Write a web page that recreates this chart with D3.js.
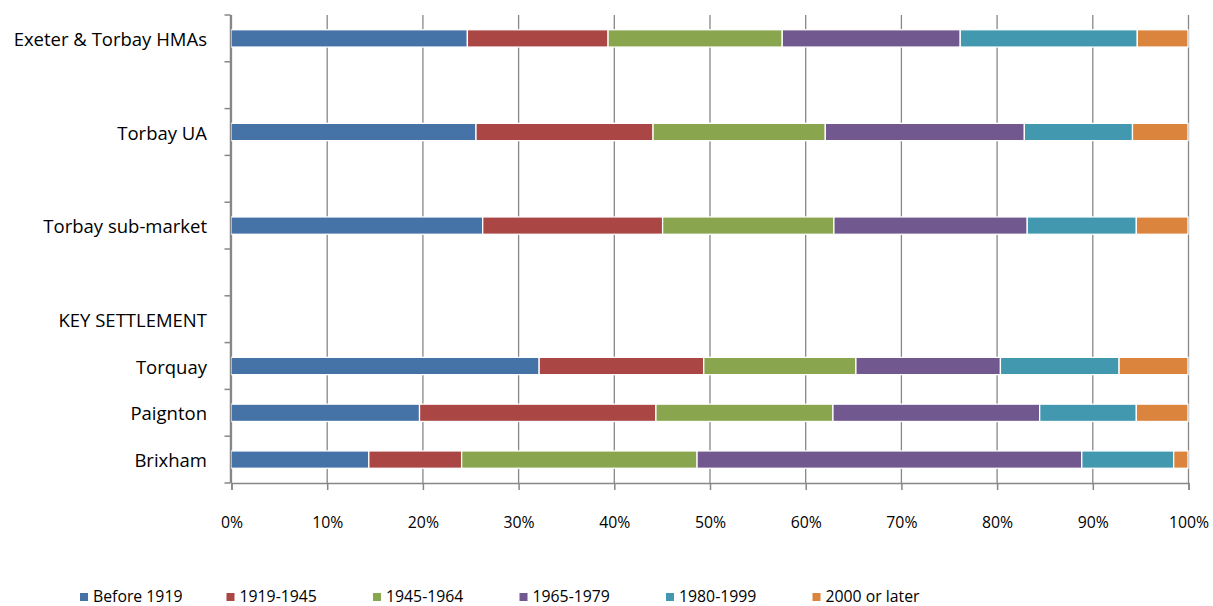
<!DOCTYPE html>
<html>
<head>
<meta charset="utf-8">
<script src="https://d3js.org/d3.v7.min.js"></script>
<style>
  body { margin: 0; background: #fff; }
  text { font-family: "Open Sans", "Noto Sans", sans-serif; fill: #000; }
</style>
</head>
<body>
<svg id="chart" width="1213" height="606"></svg>
<script>
// categories, top to bottom (blank slots are empty rows in the source)
const categories = ["Exeter & Torbay HMAs", "", "Torbay UA", "", "Torbay sub-market", "", "KEY SETTLEMENT", "Torquay", "Paignton", "Brixham"];
const seriesNames = ["Before 1919", "1919-1945", "1945-1964", "1965-1979", "1980-1999", "2000 or later"];
const colors = ["#4572A7", "#AA4643", "#89A54E", "#71588F", "#4198AF", "#DB843D"];

// percent shares per category (null = no bar)
const before1919 = [24.7, null, 25.6, null, 26.3, null, null, 32.2, 19.7, 14.4];
const y1919_1945 = [14.7, null, 18.5, null, 18.8, null, null, 17.2, 24.7, 9.7];
const y1945_1964 = [18.2, null, 18.0, null, 17.9, null, null, 15.9, 18.5, 24.6];
const y1965_1979 = [18.6, null, 20.8, null, 20.2, null, null, 15.1, 21.6, 40.2];
const y1980_1999 = [18.5, null, 11.3, null, 11.4, null, null, 12.4, 10.1, 9.6];
const y2000later = [5.3, null, 5.8, null, 5.4, null, null, 7.2, 5.4, 1.5];
const xTicks = [0, 10, 20, 30, 40, 50, 60, 70, 80, 90, 100];

const series = [before1919, y1919_1945, y1945_1964, y1965_1979, y1980_1999, y2000later];

const svg = d3.select("#chart");
const margin = { left: 231, right: 25, top: 15, bottom: 123 };
const W = 1213, H = 606;

const x = d3.scaleLinear().domain([0, 100]).range([margin.left, W - margin.right]);
const y = d3.scaleBand().domain(d3.range(categories.length)).range([margin.top, H - margin.bottom]).paddingInner(0.63).paddingOuter(0.315);

// gridlines
svg.append("g").selectAll("line").data(xTicks).join("line")
  .attr("x1", d => x(d) + 0.5).attr("x2", d => x(d) + 0.5)
  .attr("y1", margin.top).attr("y2", H - margin.bottom)
  .attr("stroke", "#878787").attr("stroke-width", 1.3);

// stacked bars
const rows = categories.map((c, i) => {
  const r = { idx: i };
  seriesNames.forEach((s, j) => r[s] = series[j][i] || 0);
  return r;
});
const stack = d3.stack().keys(seriesNames)(rows);
svg.append("g").selectAll("g").data(stack).join("g")
  .attr("fill", (d, i) => colors[i])
  .selectAll("rect").data(d => d.filter(p => p[1] - p[0] > 0)).join("rect")
  .attr("x", d => x(d[0]))
  .attr("width", d => x(d[1]) - x(d[0]))
  .attr("y", d => y(d.data.idx))
  .attr("height", y.bandwidth())
  .attr("stroke", "#fff").attr("stroke-width", 1.3);

// y axis
const yAxis = svg.append("g").attr("transform", `translate(${x(0) - 0.5},0)`);
yAxis.append("line").attr("y1", margin.top).attr("y2", H - margin.bottom)
  .attr("stroke", "#878787").attr("stroke-width", 1.5);
const step = y.step();
yAxis.selectAll("line.tick").data(d3.range(categories.length + 1)).join("line").attr("class", "tick")
  .attr("x1", -6).attr("x2", 0)
  .attr("y1", d => margin.top + d * step).attr("y2", d => margin.top + d * step)
  .attr("stroke", "#878787").attr("stroke-width", 1.5);
svg.append("g").selectAll("text").data(categories).join("text")
  .attr("x", 207).attr("y", (d, i) => y(i) + y.bandwidth() / 2)
  .attr("text-anchor", "end").attr("dominant-baseline", "central")
  .style("font-size", "18.5px").text(d => d);

// x axis
const xAxis = d3.axisBottom(x).tickValues(xTicks).tickFormat(d => d + "%").tickSize(7).tickPadding(27);
const gx = svg.append("g").attr("transform", `translate(0.5,${H - margin.bottom})`).call(xAxis);
gx.select(".domain").attr("stroke", "#878787").attr("stroke-width", 1.5);
gx.selectAll(".tick line").attr("stroke", "#878787").attr("stroke-width", 1.5);
gx.selectAll(".tick text").style("font-size", "15.8px").style("font-family", '"Open Sans", sans-serif').attr("fill", "#000");

// legend
const legend = svg.append("g").selectAll("g").data(seriesNames).join("g")
  .attr("transform", (d, i) => `translate(${80 + i * 146.5},596)`);
legend.append("rect").attr("x", 0).attr("y", -3).attr("width", 8).attr("height", 8)
  .attr("fill", (d, i) => colors[i]);
legend.append("text").attr("x", 13).attr("y", 0).attr("dominant-baseline", "central")
  .style("font-size", "15.8px").text(d => d);
</script>
</body>
</html>
